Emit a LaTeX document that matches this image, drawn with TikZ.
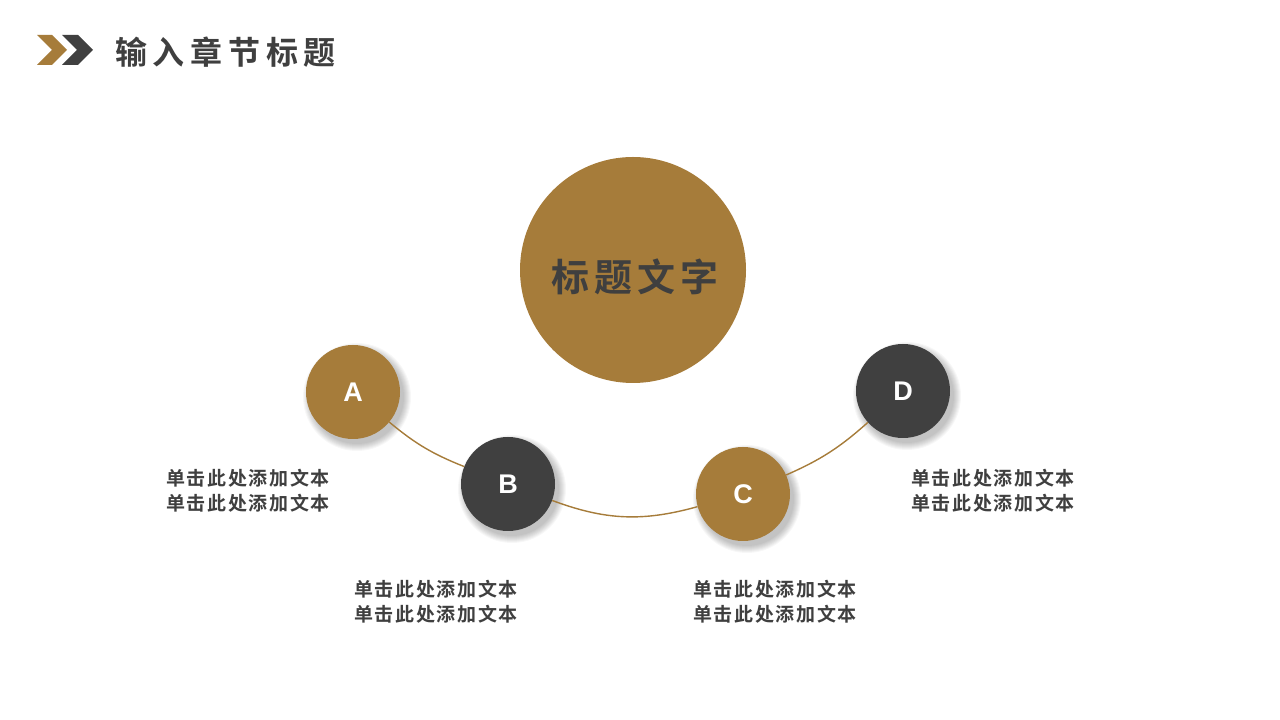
\documentclass[tikz,border=0pt]{standalone}
\usepackage{fontspec}
\newfontfamily\cjkb{Noto Sans CJK SC Bold}
\newfontfamily\letfont{Liberation Sans}
\definecolor{gold}{RGB}{166,124,58}
\definecolor{dark}{RGB}{64,64,64}
\definecolor{txt}{RGB}{63,63,63}
\tikzset{
  bigc/.style={circle,fill=gold,minimum size=226pt,inner sep=0pt},
  smallc/.style={circle,minimum size=94pt,inner sep=0pt,text=white,font=\letfont\bfseries\fontsize{27}{27}\selectfont},
  conn/.style={draw=gold,line width=1.4pt},
  body/.style={align=center,text=txt,font=\cjkb\addfontfeature{LetterSpace=9}\fontsize{19}{25}\selectfont},
}
\begin{document}
\begin{tikzpicture}[x=1pt,y=1pt]
\useasboundingbox (0,0) rectangle (1280,720);
\fill[white] (0,0) rectangle (1280,720);
% chevrons
\fill[gold] (37,685) -- (52,685) -- (67,670) -- (52,655) -- (37,655) -- (52,670) -- cycle;
\fill[dark] (62,685) -- (78,685) -- (93,670) -- (78,655) -- (62,655) -- (77,670) -- cycle;
\node[anchor=west,text=txt,inner sep=0pt,font=\cjkb\addfontfeature{LetterSpace=18}\fontsize{32}{32}\selectfont] (title) at (115,668) {输入章节标题};
% soft shadows
\foreach \cx/\cy in {353/328,508/236,743/226,903/329}{
  \foreach \k in {0,...,7}{
    \fill[black,fill opacity=0.03] (\cx+4,\cy-5) circle ({47+7-\k});
  }
}
% big circle
\node[bigc] (main) at (633,450) {};
\node[text=txt,font=\cjkb\addfontfeature{LetterSpace=14}\fontsize{38}{38}\selectfont] (maintxt) at (635,443) {标题文字};
% small circles
\node[smallc,fill=gold] (A) at (353,328) {A};
\node[smallc,fill=dark] (B) at (508,236) {B};
\node[smallc,fill=gold] (C) at (743,226) {C};
\node[smallc,fill=dark] (D) at (903,329) {D};
% connectors
\draw[conn] (A) to[bend right=9] (B);
\draw[conn] (B) to[bend right=18] (C);
\draw[conn] (C) to[bend right=9] (D);
% texts
\node[body] (tA) at (248,229.5) {单击此处添加文本\\单击此处添加文本};
\node[body] (tB) at (436,118.5) {单击此处添加文本\\单击此处添加文本};
\node[body] (tC) at (775,118.5) {单击此处添加文本\\单击此处添加文本};
\node[body] (tD) at (993,229.5) {单击此处添加文本\\单击此处添加文本};
\end{tikzpicture}
\end{document}
